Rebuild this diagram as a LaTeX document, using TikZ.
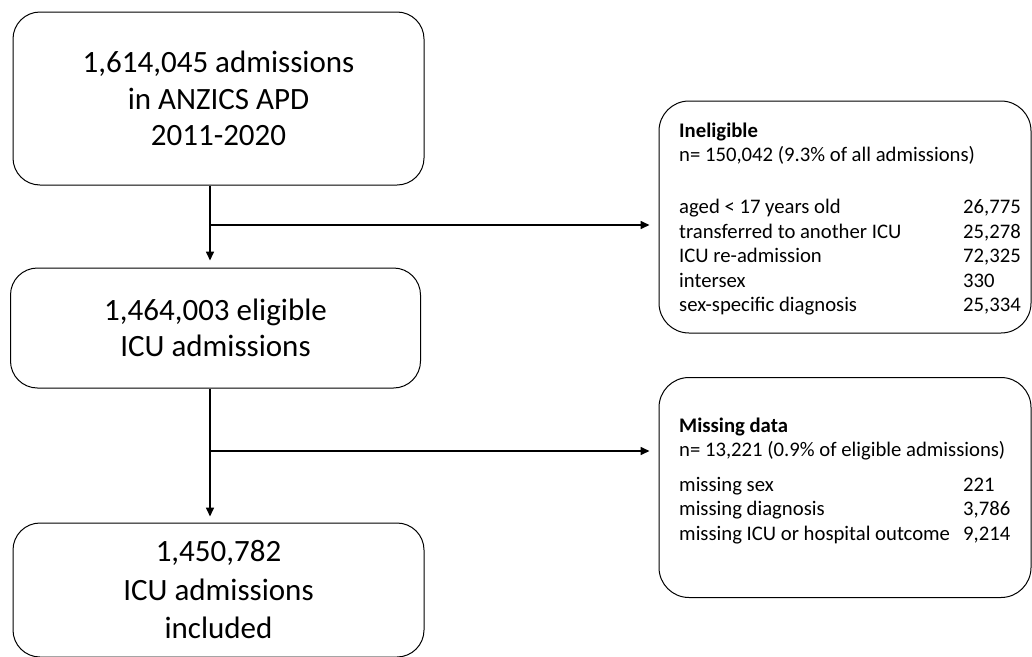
\documentclass[tikz,border=0pt]{standalone}
\usepackage{fontspec}
\setmainfont{Carlito}
\usetikzlibrary{arrows.meta}
\begin{document}
\begin{tikzpicture}[x=1pt,y=-1pt,
  mainbox/.style={draw=black,line width=1pt,rounded corners=27pt,inner sep=0pt,
    align=center,font=\fontsize{31}{36.5}\selectfont},
  sidebox/.style={draw=black,line width=1pt,rounded corners=30pt,inner sep=0pt},
  sidetxt/.style={anchor=base west,inner sep=0pt,font=\fontsize{20.7}{24.5}\selectfont},
  sidehead/.style={sidetxt,font=\fontsize{20.7}{24.5}\selectfont\bfseries},
  arr/.style={line width=1.6pt,-{Triangle[length=9pt,width=8pt]}}]
\useasboundingbox (0,0) rectangle (1032,656);
% main boxes
\node[mainbox,minimum width=411pt,minimum height=173pt] (b1) at (218.5,98.5)
  {1,614,045 admissions\\in ANZICS APD\\2011-2020};
\node[mainbox,minimum width=410pt,minimum height=120pt] (b2) at (215.5,328)
  {1,464,003 eligible\\ICU admissions};
\node[mainbox,minimum width=411pt,minimum height=134pt,
  font=\fontsize{31}{38.5}\selectfont] (b3) at (218.5,590)
  {1,450,782\\ICU admissions\\included};
% side boxes
\node[sidebox,minimum width=372pt,minimum height=232pt] (inel) at (845,217) {};
\node[sidebox,minimum width=372pt,minimum height=220pt] (miss) at (845,487.5) {};
% side texts
\node[sidehead] (i0) at (679,137) {Ineligible};
\node[sidetxt] (i1) at (679,161.5) {n= 150,042 (9.3\% of all admissions)};
\node[sidetxt] (i2) at (679,213.5) {aged < 17 years old};
\node[sidetxt] (i3) at (679,238) {transferred to another ICU};
\node[sidetxt] (i4) at (679,262.5) {ICU re-admission};
\node[sidetxt] (i5) at (679,287) {intersex};
\node[sidetxt] (i6) at (679,311.5) {sex-specific diagnosis};
\node[sidetxt] (n2) at (963,213.5) {26,775};
\node[sidetxt] (n3) at (963,238) {25,278};
\node[sidetxt] (n4) at (963,262.5) {72,325};
\node[sidetxt] (n5) at (963,287) {330};
\node[sidetxt] (n6) at (963,311.5) {25,334};
\node[sidehead] (m0) at (679,432) {Missing data};
\node[sidetxt] (m1) at (679,456.5) {n= 13,221 (0.9\% of eligible admissions)};
\node[sidetxt] (m2) at (679,491) {missing sex};
\node[sidetxt] (m3) at (679,515.5) {missing diagnosis};
\node[sidetxt] (m4) at (679,540) {missing ICU or hospital outcome};
\node[sidetxt] (k2) at (963,491) {221};
\node[sidetxt] (k3) at (963,515.5) {3,786};
\node[sidetxt] (k4) at (963,540) {9,214};
% connectors
\coordinate (v) at (210,0);
\coordinate (j1) at (210,225);
\coordinate (j2) at (210,451);
\draw[arr,shorten >=7pt] (b1.south -| v) -- (b2.north -| v);
\draw[arr,shorten >=6pt] (b2.south -| v) -- (b3.north -| v);
\draw[arr,shorten >=9pt] (j1) -- (j1 -| inel.west);
\draw[arr,shorten >=9pt] (j2) -- (j2 -| miss.west);
\end{tikzpicture}
\end{document}
